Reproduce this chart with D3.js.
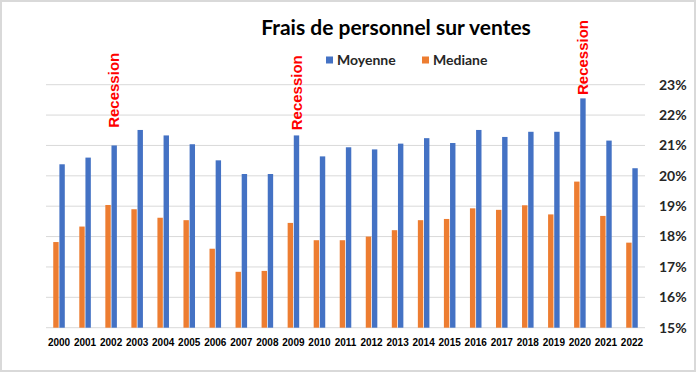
<!DOCTYPE html>
<html>
<head>
<meta charset="utf-8">
<script src="https://cdn.jsdelivr.net/npm/d3@7"></script>
<style>
  body { margin: 0; background: #fff; }
  svg { display: block; font-family: Lato, "Liberation Sans", sans-serif; }
</style>
</head>
<body>
<svg id="chart" width="697" height="373"></svg>
<script>
// data
const years = ["2000","2001","2002","2003","2004","2005","2006","2007","2008","2009","2010",
  "2011","2012","2013","2014","2015","2016","2017","2018","2019","2020","2021","2022"];
const moyenne = [20.38,20.6,21.0,21.51,21.33,21.04,20.51,20.06,20.06,21.33,20.64,
  20.94,20.87,21.06,21.24,21.08,21.51,21.28,21.45,21.45,22.55,21.16,20.25];
const mediane = [17.82,18.33,19.04,18.9,18.62,18.54,17.6,16.84,16.87,18.45,17.88,
  17.88,18.0,18.21,18.54,18.58,18.93,18.88,19.03,18.73,19.81,18.68,17.8];
const yTicks = [15,16,17,18,19,20,21,22,23];
const recessions = [
  { year: "2002", level: 21.58 },
  { year: "2009", level: 21.5 },
  { year: "2020", level: 22.66 }
];
const seriesNames = ["Mediane", "Moyenne"];
const colors = { Moyenne: "#4472C4", Mediane: "#ED7D31" };

const svg = d3.select("#chart");
const W = 697, H = 373;

// outer frame
svg.append("rect")
  .attr("x", 1).attr("y", 1).attr("width", W - 3).attr("height", H - 3)
  .attr("fill", "#fff").attr("stroke", "#d9d9d9").attr("stroke-width", 2);

const plotLeft = 46, plotRight = 645, plotTop = 84.7, plotBottom = 327.7;

const x0 = d3.scaleBand().domain(years).range([plotLeft, plotRight])
  .paddingInner(0.5).paddingOuter(0.25);
const x1 = d3.scaleBand().domain(seriesNames).range([0, x0.bandwidth()]).padding(0.12);
const y = d3.scaleLinear().domain([15, 23]).range([plotBottom, plotTop]);

// gridlines
svg.append("g").selectAll("line")
  .data(yTicks)
  .join("line")
  .attr("x1", plotLeft).attr("x2", plotRight)
  .attr("y1", d => y(d)).attr("y2", d => y(d))
  .attr("stroke", "#d9d9d9").attr("stroke-width", 1);

// right axis labels
svg.append("g").selectAll("text")
  .data(yTicks)
  .join("text")
  .attr("x", 659).attr("y", d => y(d)).attr("dy", "0.35em")
  .attr("font-size", 14).attr("font-weight", "bold").attr("fill", "#262626")
  .text(d => d + "%");

// bars
const rows = years.map((yr, i) => ({ year: yr, Moyenne: moyenne[i], Mediane: mediane[i] }));
const groups = svg.append("g").selectAll("g")
  .data(rows)
  .join("g")
  .attr("transform", d => `translate(${x0(d.year)},0)`);

groups.selectAll("rect")
  .data(d => seriesNames.map(k => ({ key: k, value: d[k] })))
  .join("rect")
  .attr("x", d => x1(d.key))
  .attr("width", x1.bandwidth())
  .attr("y", d => y(d.value))
  .attr("height", d => y(15) - y(d.value))
  .attr("fill", d => colors[d.key]);

// year labels
svg.append("g").selectAll("text")
  .data(years)
  .join("text")
  .attr("x", d => x0(d) + x0.bandwidth() / 2)
  .attr("y", 342).attr("dy", "0.35em")
  .attr("text-anchor", "middle")
  .attr("font-family", "'Liberation Sans', Arial, sans-serif")
  .attr("font-size", 10).attr("font-weight", "bold").attr("fill", "#000")
  .text(d => d);

// recession labels
svg.append("g").selectAll("text")
  .data(recessions)
  .join("text")
  .attr("transform", d => {
    const cx = x0(d.year) + x1("Moyenne") + x1.bandwidth() / 2;
    return `translate(${cx},${y(d.level)}) rotate(-90)`;
  })
  .attr("dy", "0.35em")
  .attr("font-family", "'Liberation Sans', Arial, sans-serif")
  .attr("font-size", 15).attr("font-weight", "bold").attr("fill", "#ff0000")
  .text("Recession");

// title
svg.append("text")
  .attr("x", 396).attr("y", 35)
  .attr("text-anchor", "middle")
  .attr("font-size", 21).attr("font-weight", "bold").attr("fill", "#000")
  .text("Frais de personnel sur ventes");

// legend
const legend = [
  { name: "Moyenne", x: 326 },
  { name: "Mediane", x: 422 }
];
const lg = svg.append("g").selectAll("g")
  .data(legend)
  .join("g")
  .attr("transform", d => `translate(${d.x},60)`);
lg.append("rect")
  .attr("x", 0).attr("y", -3.5).attr("width", 7).attr("height", 7)
  .attr("fill", d => colors[d.name]);
lg.append("text")
  .attr("x", 11).attr("dy", "0.35em")
  .attr("font-size", 14).attr("font-weight", "bold").attr("fill", "#262626")
  .text(d => d.name);
</script>
</body>
</html>
